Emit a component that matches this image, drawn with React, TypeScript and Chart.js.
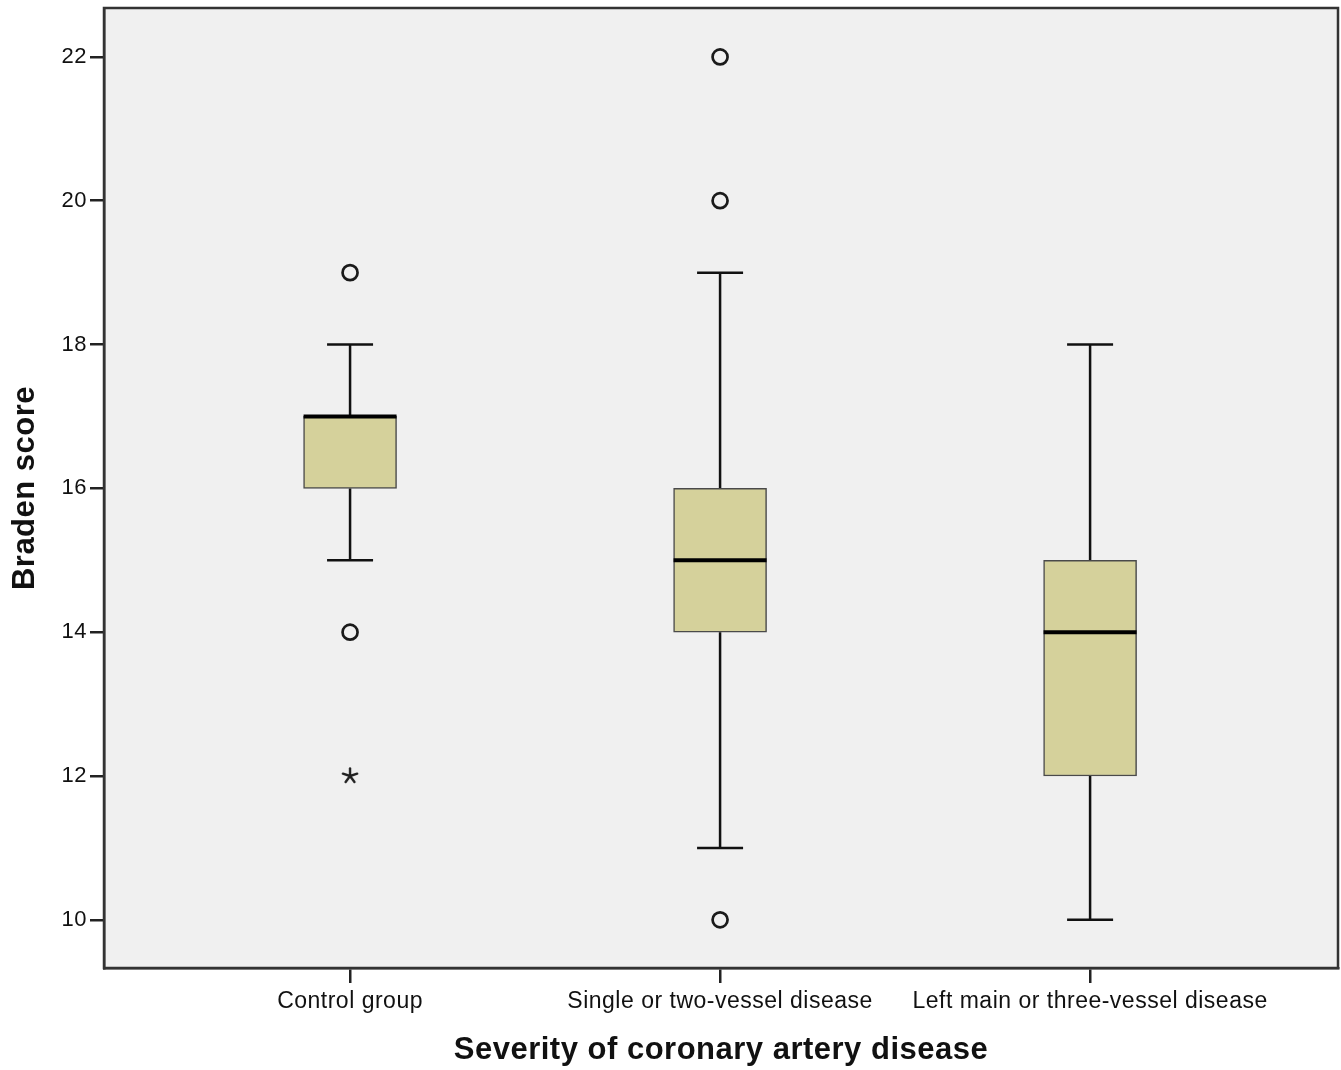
import React, { useEffect, useRef } from "react";
import { Chart, registerables } from "chart.js";

Chart.register(...registerables);

const categories = [
  "Control group",
  "Single or two-vessel disease",
  "Left main or three-vessel disease",
];
const positions = [1, 2, 3];
const whiskerMin = [15, 11, 10];
const q1 = [16, 14, 12];
const medians = [17, 15, 14];
const q3 = [17, 16, 15];
const whiskerMax = [18, 19, 18];
const circleOutliers = [
  { x: 1, y: 19 },
  { x: 1, y: 14 },
  { x: 2, y: 22 },
  { x: 2, y: 20 },
  { x: 2, y: 10 },
];
const extremeOutliers = [{ x: 1, y: 12 }];
const yTicks = [10, 12, 14, 16, 18, 20, 22];

const PLOT_BG = "#f0f0f0";
const BOX_FILL = "#d5d19b";
const INK = "#111111";
const FRAME = "#333333";
const FONT = "'Liberation Sans', Arial, sans-serif";

function makeAsterisk(): HTMLCanvasElement {
  const c = document.createElement("canvas");
  c.width = 20;
  c.height = 20;
  const g = c.getContext("2d");
  if (g) {
    g.strokeStyle = "#222222";
    g.lineWidth = 2.4;
    g.lineCap = "round";
    const cx = 10;
    const cy = 10;
    const len = 7.5;
    for (let k = 0; k < 5; k++) {
      const a = -Math.PI / 2 + (k * 2 * Math.PI) / 5;
      g.beginPath();
      g.moveTo(cx, cy);
      g.lineTo(cx + len * Math.cos(a), cy + len * Math.sin(a));
      g.stroke();
    }
  }
  return c;
}

export default function App() {
  const ref = useRef<HTMLCanvasElement | null>(null);

  useEffect(() => {
    document.body.style.margin = "0";
    const canvas = ref.current;
    if (!canvas) return;

    const boxPlugin = {
      id: "boxParts",
      beforeDraw(chart: any) {
        const { ctx, chartArea } = chart;
        ctx.save();
        ctx.fillStyle = "#ffffff";
        ctx.fillRect(0, 0, chart.width, chart.height);
        ctx.fillStyle = PLOT_BG;
        ctx.fillRect(
          chartArea.left,
          chartArea.top,
          chartArea.right - chartArea.left,
          chartArea.bottom - chartArea.top
        );
        ctx.restore();
        (ctx as any).letterSpacing = "0.5px";
      },
      beforeDatasetsDraw(chart: any) {
        const { ctx } = chart;
        const xs = chart.scales.x;
        const ys = chart.scales.y;
        ctx.save();
        ctx.strokeStyle = INK;
        ctx.lineWidth = 2.5;
        ctx.lineCap = "butt";
        const capHalf = 23;
        positions.forEach((p, i) => {
          const x = xs.getPixelForValue(p);
          ctx.beginPath();
          ctx.moveTo(x, ys.getPixelForValue(q3[i]));
          ctx.lineTo(x, ys.getPixelForValue(whiskerMax[i]));
          ctx.stroke();
          ctx.beginPath();
          ctx.moveTo(x, ys.getPixelForValue(q1[i]));
          ctx.lineTo(x, ys.getPixelForValue(whiskerMin[i]));
          ctx.stroke();
          [whiskerMax[i], whiskerMin[i]].forEach((v) => {
            const y = ys.getPixelForValue(v);
            ctx.beginPath();
            ctx.moveTo(x - capHalf, y);
            ctx.lineTo(x + capHalf, y);
            ctx.stroke();
          });
        });
        ctx.restore();
      },
      afterDatasetsDraw(chart: any) {
        const { ctx } = chart;
        const xs = chart.scales.x;
        const ys = chart.scales.y;
        const meta = chart.getDatasetMeta(0);
        ctx.save();
        ctx.strokeStyle = "#000000";
        ctx.lineWidth = 4;
        positions.forEach((p, i) => {
          const bar = meta.data[i] as any;
          const half = bar ? bar.width / 2 : 46;
          const x = xs.getPixelForValue(p);
          const y = ys.getPixelForValue(medians[i]);
          ctx.beginPath();
          ctx.moveTo(x - half, y);
          ctx.lineTo(x + half, y);
          ctx.stroke();
        });
        ctx.restore();
      },
      afterDraw(chart: any) {
        const { ctx, chartArea } = chart;
        ctx.save();
        ctx.strokeStyle = FRAME;
        ctx.lineWidth = 2.5;
        ctx.strokeRect(
          chartArea.left,
          chartArea.top,
          chartArea.right - chartArea.left,
          chartArea.bottom - chartArea.top
        );
        ctx.restore();
      },
    };

    const chart = new Chart(canvas, {
      type: "bar",
      data: {
        datasets: [
          {
            type: "bar",
            label: "box",
            data: positions.map((p, i) => ({ x: p, y: [q1[i], q3[i]] })) as any,
            backgroundColor: BOX_FILL,
            borderColor: "#4a4a4a",
            borderWidth: 1.5,
            borderSkipped: false,
            barThickness: 93,
            order: 2,
          },
          {
            type: "scatter",
            label: "outliers",
            data: circleOutliers as any,
            pointStyle: "circle",
            pointRadius: 7.5,
            pointBorderWidth: 2.7,
            pointBackgroundColor: "rgba(0,0,0,0)",
            pointBorderColor: "#1a1a1a",
            order: 1,
          } as any,
          {
            type: "scatter",
            label: "extremes",
            data: extremeOutliers as any,
            pointStyle: makeAsterisk(),
            pointRadius: 8,
            order: 1,
          } as any,
        ],
      },
      options: {
        animation: false,
        responsive: true,
        maintainAspectRatio: false,
        layout: { autoPadding: false, padding: { top: 8, right: 3, left: 0, bottom: 0 } },
        plugins: {
          legend: { display: false },
          tooltip: { enabled: false },
        },
        scales: {
          x: {
            type: "linear",
            min: 0.335,
            max: 3.67,
            offset: false,
            afterBuildTicks: (scale: any) => {
              scale.ticks = positions.map((v) => ({ value: v }));
            },
            afterFit: (scale: any) => {
              scale.height = 102;
              scale.paddingLeft = 0;
              scale.paddingRight = 0;
            },
            ticks: {
              autoSkip: false,
              maxRotation: 0,
              padding: 5,
              color: "#111111",
              font: { family: FONT, size: 23 },
              callback: (v: any) => {
                const idx = positions.indexOf(Number(v));
                return idx >= 0 ? categories[idx] : "";
              },
            },
            grid: {
              offset: false,
              drawOnChartArea: false,
              drawTicks: true,
              tickLength: 15,
              color: "#222222",
              lineWidth: 2.5,
            },
            border: { display: true, color: FRAME, width: 2.5 },
            title: {
              display: true,
              text: "Severity of coronary artery disease",
              color: "#111111",
              font: { family: FONT, size: 31, weight: "bold" },
              padding: { top: 0, bottom: 1 },
            },
          },
          y: {
            type: "linear",
            min: 9.33,
            max: 22.68,
            afterBuildTicks: (scale: any) => {
              scale.ticks = yTicks.map((v) => ({ value: v }));
            },
            afterFit: (scale: any) => {
              scale.width = 104;
              scale.paddingTop = 0;
              scale.paddingBottom = 0;
            },
            ticks: {
              padding: 3,
              color: "#111111",
              font: { family: FONT, size: 22 },
            },
            grid: {
              drawOnChartArea: false,
              drawTicks: true,
              tickLength: 14,
              color: "#222222",
              lineWidth: 2.5,
            },
            border: { display: true, color: FRAME, width: 2.5 },
            title: {
              display: true,
              text: "Braden score",
              color: "#111111",
              font: { family: FONT, size: 31, weight: "bold" },
              padding: { top: 7, bottom: 0 },
            },
          },
        },
      },
      plugins: [boxPlugin],
    });

    return () => {
      chart.destroy();
    };
  }, []);

  return (
    <div style={{ position: "absolute", left: 0, top: 0, width: 1341, height: 1070 }}>
      <canvas ref={ref} />
    </div>
  );
}
